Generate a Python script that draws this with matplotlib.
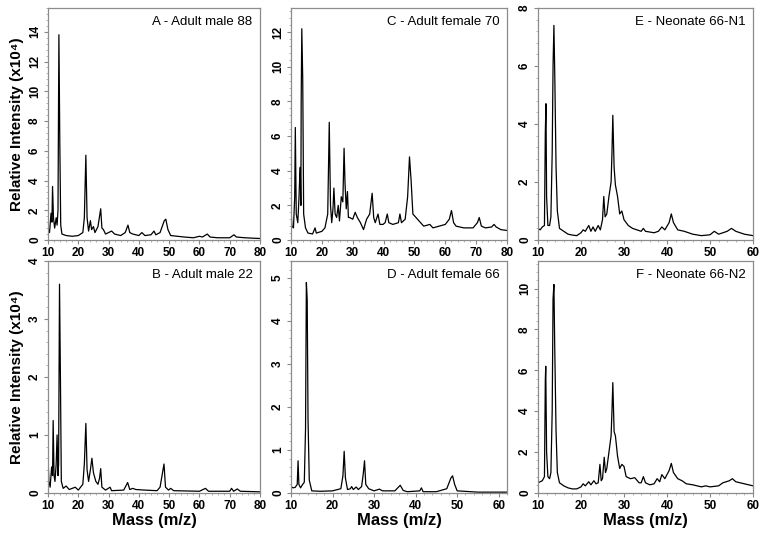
import matplotlib
matplotlib.use("Agg")
import matplotlib.pyplot as plt
from matplotlib.ticker import MultipleLocator

# Spectra: (mass, intensity x10^4)
a_mass = [10, 10.5, 11, 11.3, 11.5, 11.8, 12.2, 12.7, 13, 13.3, 13.6, 13.9, 14.2, 14.6, 16, 18, 20,
          21.5, 22, 22.5, 22.9, 23.4, 24, 24.4, 25, 25.5, 26.5, 27.4, 27.8, 28.3, 29, 31, 32, 34, 35.5,
          36.4, 37, 38, 40, 41, 42, 44, 45, 45.6, 47, 48.4, 48.9, 49.6, 50.5, 55, 58, 60, 61, 62.6, 63.5,
          66, 70, 71.4, 72.2, 75, 80]
a_int = [0.8, 0.5, 1.8, 1.2, 3.6, 1.5, 0.8, 1.5, 1.0, 2.0, 13.8, 6.5, 1.0, 0.4, 0.3, 0.25, 0.3,
         0.5, 1.5, 5.7, 1.5, 0.6, 1.3, 0.7, 0.9, 0.5, 0.9, 2.1, 0.8, 0.7, 0.4, 0.6, 0.4, 0.3, 0.5,
         1.0, 0.5, 0.4, 0.3, 0.5, 0.3, 0.35, 0.6, 0.35, 0.5, 1.3, 1.4, 0.7, 0.3, 0.2, 0.15, 0.25, 0.2, 0.4, 0.2,
         0.15, 0.15, 0.35, 0.2, 0.15, 0.1]

b_mass = [10, 10.3, 10.7, 11.2, 11.5, 11.7, 12, 12.3, 12.7, 13, 13.3, 13.5, 13.8, 14.1, 14.4, 15, 16, 17,
          19, 20, 21.5, 22, 22.5, 22.9, 23.4, 24, 24.5, 25, 25.8, 26.5, 27, 27.4, 27.8, 29, 30.5, 31, 35,
          36.3, 37, 38, 39, 42, 46, 47, 48.3, 48.8, 49.8, 50.5, 51.5, 60, 62, 63, 70, 70.6, 71.3, 72.5,
          73.5, 80]
b_int = [0.6, 0.2, 0.1, 0.45, 0.3, 1.25, 0.3, 0.2, 0.5, 1.0, 0.3, 0.5, 3.6, 2.0, 0.2, 0.08, 0.12, 0.06,
         0.1, 0.05, 0.15, 0.5, 1.2, 0.4, 0.2, 0.4, 0.6, 0.35, 0.2, 0.15, 0.25, 0.42, 0.1, 0.05, 0.1, 0.04, 0.05,
         0.18, 0.06, 0.08, 0.06, 0.05, 0.04, 0.1, 0.5, 0.1, 0.05, 0.08, 0.04, 0.03, 0.08, 0.03, 0.03, 0.08, 0.03, 0.07,
         0.03, 0.02]

c_mass = [10, 10.3, 10.8, 11.2, 11.4, 11.7, 12.2, 12.6, 12.8, 13.0, 13.2, 13.3, 13.5, 13.8, 14.1, 14.7,
          15.5, 17, 17.8, 18.2, 20, 21, 21.9, 22.4, 22.8, 23.2, 23.6, 23.9, 24.3, 24.8, 25.3, 25.7, 26.3,
          26.8, 27.2, 27.5, 27.9, 28.3, 28.6, 29, 30, 30.8, 31.5, 32.5, 33.5, 34.5, 35.5, 36.3, 36.8, 37.3,
          38.2, 38.8, 39.8, 40.5, 41.2, 41.7, 43, 44.8, 45.3, 45.8, 47, 47.8, 48.4, 48.9, 49.5, 50.5, 52,
          53, 55, 56, 58, 60, 61.3, 62.0, 62.7, 63.5, 66, 69, 70.4, 71.0, 71.7, 73, 75, 75.8, 76.5, 78, 80]
c_int = [1.8, 0.8, 0.7, 2.5, 6.5, 1.5, 1.0, 2.5, 3.5, 4.2, 2.0, 8.0, 12.2, 9.3, 1.5, 0.7,
         0.4, 0.35, 0.7, 0.4, 0.5, 0.7, 1.5, 6.8, 2.0, 1.0, 1.8, 3.0, 1.5, 1.3, 2.0, 1.1, 2.5,
         2.2, 5.3, 3.3, 1.8, 2.8, 1.3, 1.3, 1.2, 1.6, 1.3, 1.0, 0.6, 1.2, 1.5, 2.7, 1.3, 1.0,
         1.5, 0.9, 0.9, 1.0, 1.5, 1.0, 0.9, 1.0, 1.5, 1.0, 1.2, 2.5, 4.8, 3.5, 1.5, 1.3, 1.0,
         0.8, 0.9, 0.7, 0.8, 0.9, 1.2, 1.7, 1.0, 0.8, 0.7, 0.7, 1.0, 1.3, 0.8, 0.7, 0.75, 0.9, 0.75, 0.6, 0.55]

d_mass = [10, 10.5, 11, 11.5, 11.7, 11.9, 12.3, 12.8, 13.2, 13.5, 13.7, 13.9, 14.1, 14.4, 15, 17, 20,
          22, 22.5, 22.8, 23.1, 23.6, 24.3, 24.6, 25, 25.7, 26.2, 27, 27.4, 27.7, 28, 28.7, 30, 31.3, 32,
          35, 36.3, 37, 38, 41, 41.4, 41.8, 45, 47.5, 48.5, 48.9, 49.4, 50, 55, 62]
d_int = [0.15, 0.12, 0.13, 0.2, 0.75, 0.2, 0.12, 0.2, 0.25, 1.5, 4.9, 4.5, 1.7, 0.3, 0.05, 0.04, 0.05,
         0.1, 0.4, 0.97, 0.35, 0.08, 0.1, 0.15, 0.08, 0.14, 0.08, 0.15, 0.45, 0.75, 0.2, 0.1, 0.05, 0.09, 0.05,
         0.05, 0.18, 0.06, 0.03, 0.05, 0.12, 0.03, 0.03, 0.1, 0.35, 0.4, 0.2, 0.05, 0.02, 0.02]

e_mass = [10, 10.5, 11, 11.5, 11.7, 11.85, 12.0, 12.3, 12.7, 13.0, 13.3, 13.5, 13.7, 13.9, 14.2, 14.5,
          15, 16, 17, 18, 19, 20, 20.5, 21, 21.8, 22.3, 22.8, 23.3, 24, 24.5, 25, 25.3, 25.6, 26, 26.5,
          27, 27.2, 27.4, 27.7, 28, 28.5, 29, 29.5, 30, 31, 32, 33, 34, 34.5, 35, 37, 38, 38.8, 39.5,
          40.5, 41, 41.5, 42.5, 44, 46, 48, 50, 51, 52, 53, 54, 55, 56, 58, 60]
e_int = [0.4, 0.35, 0.45, 0.5, 3.7, 4.7, 1.5, 0.5, 0.5, 0.8, 3.0, 6.0, 7.4, 5.7, 2.5, 1.0,
         0.4, 0.3, 0.2, 0.17, 0.15, 0.25, 0.35, 0.3, 0.5, 0.3, 0.45, 0.3, 0.5, 0.35, 0.7, 1.5, 0.8, 0.9, 1.5,
         2.0, 3.0, 4.3, 2.5, 1.9, 1.5, 0.9, 1.0, 0.7, 0.5, 0.4, 0.35, 0.3, 0.4, 0.3, 0.25, 0.3, 0.45, 0.35,
         0.6, 0.9, 0.6, 0.35, 0.3, 0.2, 0.15, 0.18, 0.3, 0.2, 0.25, 0.3, 0.4, 0.3, 0.2, 0.15]

f_mass = [10, 10.5, 11, 11.5, 11.7, 11.8, 12.0, 12.3, 12.7, 13, 13.3, 13.5, 13.7, 13.9, 14.2, 14.5, 15,
          16, 17, 18, 19, 20, 20.5, 21, 21.8, 22.3, 23, 23.5, 24, 24.4, 24.7, 25, 25.4, 25.7, 26, 26.5,
          27, 27.2, 27.4, 27.7, 28, 28.5, 29, 29.5, 30, 30.5, 31.5, 32.5, 33.5, 34, 34.5, 35, 36, 37,
          37.7, 38.3, 38.8, 39.5, 40.5, 41, 41.5, 42.5, 43.5, 44.5, 46, 48, 49, 50, 52, 53, 54.5, 55.2,
          56, 58, 60]
f_int = [0.5, 0.55, 0.6, 0.8, 5.5, 6.2, 2.0, 0.8, 0.7, 1.0, 4.0, 9.5, 10.2, 7.0, 3.0, 1.0, 0.5,
         0.35, 0.25, 0.2, 0.2, 0.3, 0.45, 0.35, 0.55, 0.4, 0.6, 0.45, 0.5, 1.4, 0.6, 0.7, 1.75, 1.0, 1.2, 2.0,
         2.8, 4.0, 5.4, 3.0, 2.8, 1.8, 1.2, 1.4, 1.3, 0.8, 0.7, 0.75, 0.5, 0.5, 0.8, 0.5, 0.4, 0.45,
         0.7, 0.55, 0.9, 0.7, 1.1, 1.45, 1.0, 0.7, 0.6, 0.45, 0.4, 0.3, 0.35, 0.3, 0.35, 0.5, 0.6, 0.7,
         0.55, 0.45, 0.35]

titles = ["A - Adult male 88", "C - Adult female 70", "E - Neonate 66-N1",
          "B - Adult male 22", "D - Adult female 66", "F - Neonate 66-N2"]

plt.rcParams['font.family'] = ['Liberation Sans', 'DejaVu Sans']

fig = plt.figure(figsize=(7.62, 5.33), dpi=100)

# panel boxes in pixel terms: left, width
lefts = [48, 291, 538]
widths = [212, 216, 215]
top_row = (1 - 240 / 533, 232 / 533)
bot_row = (1 - 493 / 533, 232 / 533)

panels = [
    (0, top_row, a_mass, a_int, (10, 80), (0, 15.6), 2, titles[0]),
    (1, top_row, c_mass, c_int, (10, 80), (0, 13.4), 2, titles[1]),
    (2, top_row, e_mass, e_int, (10, 60), (0, 8.0), 2, titles[2]),
    (0, bot_row, b_mass, b_int, (10, 80), (0, 4.0), 1, titles[3]),
    (1, bot_row, d_mass, d_int, (10, 62), (0, 5.4), 1, titles[4]),
    (2, bot_row, f_mass, f_int, (10, 60), (0, 11.35), 2, titles[5]),
]

for col, row, xs, ys, xl, yl, ystep, title in panels:
    ax = fig.add_axes([lefts[col] / 762, row[0], widths[col] / 762, row[1]])
    ax.plot(xs, ys, color='black', lw=0.9)
    ax.set_xlim(*xl)
    ax.set_ylim(*yl)
    ax.xaxis.set_major_locator(MultipleLocator(10))
    ax.xaxis.set_minor_locator(MultipleLocator(2))
    ax.yaxis.set_major_locator(MultipleLocator(ystep))
    ax.yaxis.set_minor_locator(MultipleLocator(ystep / 5))
    ax.tick_params(which='major', length=3, width=0.8, color='#888888', pad=2)
    ax.tick_params(which='minor', length=1.5, width=0.6, color='#aaaaaa')
    for lab in ax.get_xticklabels():
        lab.set_fontweight('bold')
        lab.set_fontsize(8.5)
    for lab in ax.get_yticklabels():
        lab.set_fontweight('bold')
        lab.set_fontsize(8.5)
        lab.set_rotation(90)
        lab.set_va('center')
    for s in ax.spines.values():
        s.set_color('#8c8c8c')
        s.set_linewidth(0.9)
    ax.text(0.965, 0.965, title, transform=ax.transAxes, ha='right', va='top', fontsize=9.5)

# shared labels
fig.text(17 / 762, 1 - 124 / 533, 'Relative Intensity (x10⁴)', rotation=90, ha='center', va='center',
         fontsize=11, fontweight='bold')
fig.text(17 / 762, 1 - 377 / 533, 'Relative Intensity (x10⁴)', rotation=90, ha='center', va='center',
         fontsize=11, fontweight='bold')
for col in range(3):
    fig.text((lefts[col] + widths[col] / 2) / 762, 1 - 520 / 533, 'Mass (m/z)', ha='center', va='center',
             fontsize=12, fontweight='bold')

fig.savefig('out.png', dpi=100)
